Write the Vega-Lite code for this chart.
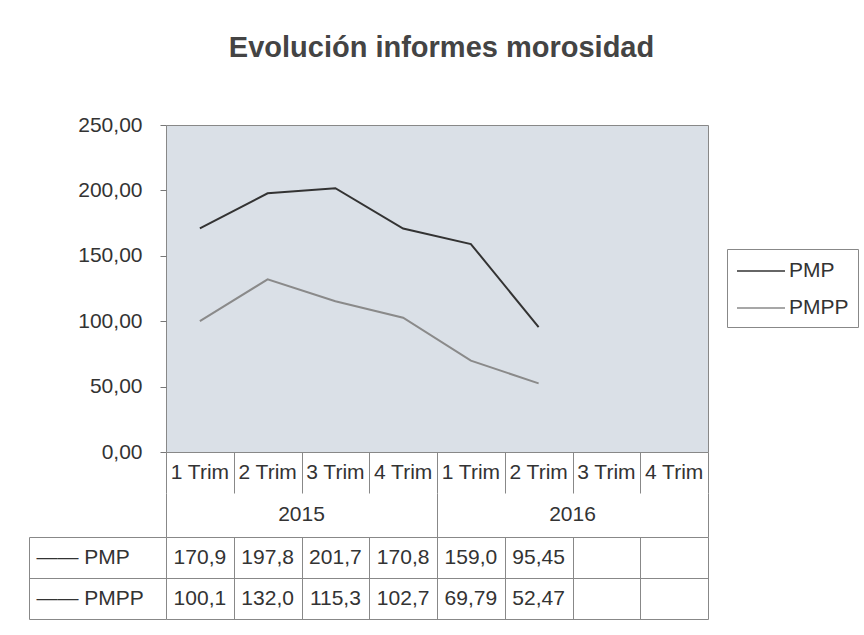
{
  "$schema": "https://vega.github.io/schema/vega-lite/v6.json",
  "background": "white",
  "padding": {"left": 28, "top": 33, "right": 0, "bottom": 0},
  "title": {"text": "Evolución informes morosidad", "fontSize": 29, "fontWeight": "bold", "font": "Liberation Sans", "color": "#444", "anchor": "middle", "offset": 51, "dx": -2},
  "config": {
    "locale": {"number": {"decimal": ",", "thousands": ".", "grouping": [3], "currency": ["", " €"]}},
    "font": "Liberation Sans",
    "view": {"stroke": null}
  },
  "bounds": "flush",
  "spacing": 0,
  "datasets": {
    "series": [
      {"key": "2015-1", "series": "PMP", "value": 170.9},
      {"key": "2015-2", "series": "PMP", "value": 197.8},
      {"key": "2015-3", "series": "PMP", "value": 201.7},
      {"key": "2015-4", "series": "PMP", "value": 170.8},
      {"key": "2016-1", "series": "PMP", "value": 159.0},
      {"key": "2016-2", "series": "PMP", "value": 95.45},
      {"key": "2015-1", "series": "PMPP", "value": 100.1},
      {"key": "2015-2", "series": "PMPP", "value": 132.0},
      {"key": "2015-3", "series": "PMPP", "value": 115.3},
      {"key": "2015-4", "series": "PMPP", "value": 102.7},
      {"key": "2016-1", "series": "PMPP", "value": 69.79},
      {"key": "2016-2", "series": "PMPP", "value": 52.47}
    ],
    "quarters": [
      {"key": "2015-1", "label": "1 Trim"},
      {"key": "2015-2", "label": "2 Trim"},
      {"key": "2015-3", "label": "3 Trim"},
      {"key": "2015-4", "label": "4 Trim"},
      {"key": "2016-1", "label": "1 Trim"},
      {"key": "2016-2", "label": "2 Trim"},
      {"key": "2016-3", "label": "3 Trim"},
      {"key": "2016-4", "label": "4 Trim"}
    ],
    "years": [
      {"year": "2015"},
      {"year": "2016"}
    ]
  },
  "vconcat": [
    {
      "width": 542,
      "height": 327,
      "data": {"name": "series"},
      "view": {"fill": "#dae0e7", "stroke": "#888", "strokeWidth": 1},
      "mark": {"type": "line", "strokeWidth": 2},
      "encoding": {
        "x": {"field": "key", "type": "nominal", "scale": {"type": "band", "domain": ["2015-1", "2015-2", "2015-3", "2015-4", "2016-1", "2016-2", "2016-3", "2016-4"], "paddingInner": 0, "paddingOuter": 0}, "axis": null},
        "y": {"field": "value", "type": "quantitative", "scale": {"domain": [0, 250]}, "axis": {"values": [0, 50, 100, 150, 200, 250], "format": ".2f", "grid": false, "domain": false, "tickSize": 6, "tickColor": "#777", "labelPadding": 18, "labelFontSize": 21, "labelColor": "#333", "title": null}},
        "color": {"field": "series", "type": "nominal", "scale": {"domain": ["PMP", "PMPP"], "range": ["#333333", "#8a8a8a"]},
          "legend": {"orient": "none", "legendX": 561, "legendY": 124, "title": null, "symbolType": "M-2,0H2", "symbolSize": 576, "symbolStrokeWidth": 1.5, "symbolOffset": 12, "labelFontSize": 21, "labelColor": "#333", "strokeColor": "#888", "padding": 9, "rowPadding": 14, "labelOffset": 15, "fillColor": "white"}}
      }
    },
    {
      "width": 542,
      "height": 41,
      "data": {"name": "quarters"},
      "mark": {"type": "text", "fontSize": 21, "color": "#333", "baseline": "middle"},
      "encoding": {
        "x": {"field": "key", "type": "nominal", "scale": {"type": "band", "domain": ["2015-1", "2015-2", "2015-3", "2015-4", "2016-1", "2016-2", "2016-3", "2016-4"], "paddingInner": 0, "paddingOuter": 0}, "axis": {"tickBand": "extent", "grid": true, "gridColor": "#888", "gridOpacity": 1, "labels": false, "ticks": false, "domain": false, "title": null}},
        "text": {"field": "label"}
      }
    },
    {
      "width": 542,
      "height": 44,
      "data": {"name": "years"},
      "mark": {"type": "text", "fontSize": 21, "color": "#333", "baseline": "middle"},
      "encoding": {
        "x": {"field": "year", "type": "nominal", "scale": {"type": "band", "paddingInner": 0, "paddingOuter": 0}, "axis": {"tickBand": "extent", "grid": true, "gridColor": "#888", "gridOpacity": 1, "labels": false, "ticks": false, "domain": false, "title": null}},
        "text": {"field": "year"}
      }
    },
    {
      "width": 542,
      "height": 82,
      "data": {"name": "series"},
      "mark": {"type": "text", "fontSize": 21, "color": "#333", "baseline": "middle"},
      "encoding": {
        "x": {"field": "key", "type": "nominal", "scale": {"type": "band", "domain": ["2015-1", "2015-2", "2015-3", "2015-4", "2016-1", "2016-2", "2016-3", "2016-4"], "paddingInner": 0, "paddingOuter": 0}, "axis": {"tickBand": "extent", "grid": true, "gridColor": "#888", "gridOpacity": 1, "labels": false, "ticks": false, "domain": false, "title": null}},
        "y": {"field": "series", "type": "nominal", "scale": {"type": "band", "domain": ["PMP", "PMPP"], "paddingInner": 0, "paddingOuter": 0}, "axis": {"tickBand": "extent", "grid": true, "gridColor": "#888", "gridOpacity": 1, "ticks": true, "tickSize": -137, "tickColor": "#888", "offset": 137, "domain": true, "domainColor": "#888", "labelAlign": "left", "labelPadding": 130, "labelExpr": "isValid(datum.value) ? '—— ' + datum.value : ''", "labelFontSize": 21, "labelColor": "#333", "title": null}},
        "text": {"field": "value", "type": "quantitative", "format": ".4r"}
      }
    }
  ]
}
